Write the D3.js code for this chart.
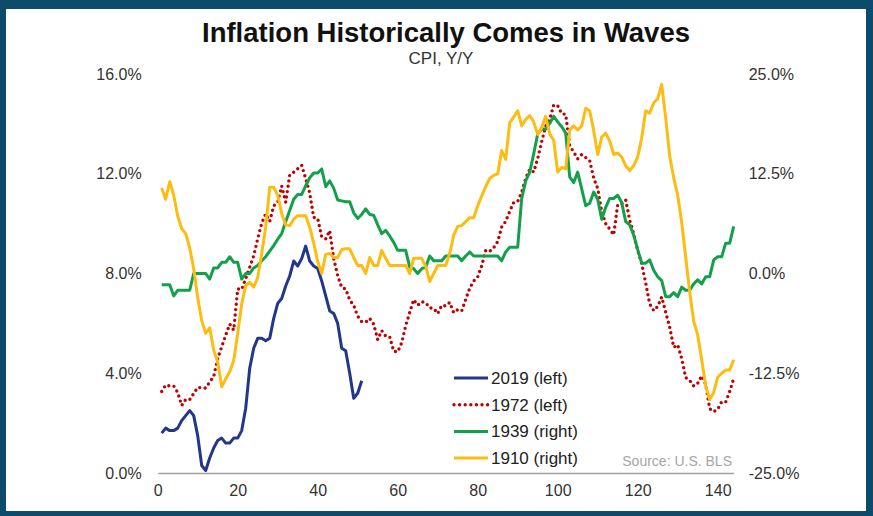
<!DOCTYPE html>
<html>
<head>
<meta charset="utf-8">
<script src="https://cdn.jsdelivr.net/npm/d3@7"></script>
<style>
  html, body { margin: 0; padding: 0; background: #fff; }
  svg { display: block; font-family: "Liberation Sans", Arial, sans-serif; }
</style>
</head>
<body>
<svg id="root" width="873" height="516"></svg>
<script>
"use strict";

// CPI Y/Y, months since start of each episode (month 1 = first point)
const cpi2019 = [
  1.6, 1.8, 1.7, 1.7, 1.8, 2.1, 2.3,
  2.5, 2.3, 1.5, 0.3, 0.1, 0.6, 1.0, 1.3, 1.4, 1.2, 1.2, 1.4,
  1.4, 1.7, 2.6, 4.2, 5.0, 5.4, 5.4, 5.3, 5.4, 6.2, 6.8, 7.0,
  7.5, 7.9, 8.5, 8.3, 8.6, 9.1, 8.5, 8.3, 8.2, 7.7, 7.1, 6.5,
  6.4, 6.0, 5.0, 4.9, 4.0, 3.0, 3.2, 3.7
];

const cpi1972 = [
  3.27, 3.53, 3.49, 3.49, 3.23, 2.71, 2.95, 2.94, 3.19, 3.43, 3.42, 3.41,
  3.65, 3.87, 4.59, 5.06, 5.53, 5.97, 5.73, 7.38, 7.36, 7.80, 8.25, 8.71,
  9.39, 10.02, 10.39, 10.09, 10.71, 10.86, 11.51, 10.86, 11.95, 12.06, 12.20, 12.34,
  11.80, 11.23, 10.25, 10.21, 9.47, 9.39, 9.72, 8.60, 7.91, 7.44, 7.38, 6.94,
  6.72, 6.29, 6.07, 6.05, 6.20, 5.97, 5.35, 5.71, 5.49, 5.46, 4.88, 4.86,
  5.22, 5.91, 6.44, 6.95, 6.73, 6.87, 6.83, 6.62, 6.60, 6.39, 6.72, 6.70,
  6.84, 6.43, 6.55, 6.50, 6.96, 7.41, 7.70, 7.86, 8.31, 8.93, 8.89, 9.03,
  9.28, 9.86, 10.09, 10.49, 10.85, 10.89, 11.26, 11.82, 12.18, 12.07, 12.61, 13.29,
  13.91, 14.18, 14.76, 14.73, 14.41, 14.38, 13.13, 12.87, 12.60, 12.77, 12.65, 12.52,
  11.83, 11.41, 10.49, 10.00, 9.78, 9.55, 10.76, 10.80, 10.95, 10.14, 9.59, 8.92,
  8.39, 7.62, 6.78, 6.51, 6.68, 7.06, 6.44, 5.85, 5.04, 5.14, 4.59, 3.83,
  3.71, 3.49, 3.60, 3.90, 3.55, 2.58, 2.46, 2.56, 2.86, 2.85, 3.27, 3.79
];

const cpi1939 = [
  -1.4, -1.4, -1.4, -2.8, -2.1, -2.1, -2.1, -2.1, 0.0, 0.0, 0.0, 0.0,
  -0.7, 0.7, 0.7, 1.4, 1.4, 2.1, 1.4, 1.4, -0.7, 0.0, 0.0, 0.7,
  1.0, 1.6, 2.1, 2.8, 3.5, 4.3, 5.0, 6.5, 7.9, 9.3, 9.9, 9.9,
  11.0, 12.0, 12.6, 12.6, 13.1, 10.9, 11.6, 10.7, 9.2, 9.1, 9.0, 9.0,
  7.6, 6.9, 7.4, 8.1, 7.4, 7.3, 6.1, 5.0, 5.4, 4.7, 3.9, 2.9,
  2.9, 2.9, 0.8, 0.6, 0.0, 0.6, 0.8, 2.2, 1.6, 1.6, 1.6, 2.2,
  2.2, 2.2, 2.2, 1.6, 2.2, 2.7, 2.2, 2.2, 2.2, 2.2, 2.2, 2.2,
  2.2, 1.6, 2.7, 3.3, 3.3, 3.3, 9.4, 11.6, 12.7, 15.0, 17.5, 18.1,
  18.1, 18.8, 19.7, 19.0, 18.4, 17.6, 12.1, 11.4, 12.7, 10.6, 8.5, 8.8,
  10.2, 9.3, 6.8, 8.3, 9.4, 9.4, 9.8, 8.9, 6.5, 6.1, 4.8, 3.0,
  1.3, 1.3, 1.7, 0.4, -0.4, -0.9, -2.9, -2.9, -2.4, -2.9, -1.7, -2.1,
  -2.1, -1.3, -0.8, -1.3, -0.4, -0.4, 1.7, 2.1, 2.1, 3.8, 3.8, 5.9
];

const cpi1910 = [
  10.7, 9.3, 11.5, 9.8, 7.2, 5.6, 5.0, 3.2, 0.6, -3.0, -5.9, -7.5,
  -6.8, -9.6, -11.1, -14.2, -13.2, -12.3, -10.9, -7.5, -3.8, -1.5, -1.1, -1.7,
  -0.5, 2.5, 5.8, 10.8, 10.8, 9.8, 7.5, 6.1, 6.0, 6.8, 7.25, 7.25,
  7.25, 5.8, 3.8, 1.5, 0.0, 2.4, 2.5, 2.0, 2.0, 3.0, 3.1, 3.1,
  2.0, 1.0, 1.0, 0.0, 2.0, 1.0, 1.0, 2.9, 1.9, 1.0, 1.0, 1.0,
  1.0, 1.0, 0.0, 1.9, 1.9, 1.9, 0.9, -1.0, 0.0, 1.0, 1.0, 1.0,
  2.5, 4.8, 5.9, 6.0, 6.5, 7.0, 7.0, 8.5, 9.7, 10.9, 11.9, 12.3,
  12.5, 15.4, 14.3, 18.9, 19.6, 20.4, 18.5, 19.3, 19.8, 19.0, 17.4, 18.3,
  19.7, 17.5, 16.7, 12.7, 13.3, 13.1, 18.0, 18.5, 18.0, 18.5, 20.7, 20.4,
  17.9, 14.9, 17.1, 17.6, 16.6, 14.9, 15.1, 14.6, 13.5, 12.9, 13.5, 14.6,
  17.0, 20.4, 20.1, 21.4, 21.9, 23.7, 19.5, 14.7, 12.0, 9.8, 6.4, 2.0,
  -2.3, -6.0, -7.7, -10.8, -14.1, -15.8, -14.9, -13.0, -12.5, -12.1, -12.1, -10.8
];

const xTicks = [0, 20, 40, 60, 80, 100, 120, 140];
const leftTicks = [0, 4, 8, 12, 16];
const rightTicks = [-25, -12.5, 0, 12.5, 25];

const seriesList = [
  { name: "2019 (left)", values: cpi2019, axis: "left", color: "#22378a", dotted: false },
  { name: "1972 (left)", values: cpi1972, axis: "left", color: "#c00000", dotted: true },
  { name: "1939 (right)", values: cpi1939, axis: "right", color: "#12a04a", dotted: false },
  { name: "1910 (right)", values: cpi1910, axis: "right", color: "#fcbc12", dotted: false },
];

const svg = d3.select("#root");
const W = 873, H = 516;

// frame
const frameColor = "#0c4b6c";
svg.append("rect").attr("width", W).attr("height", H).attr("fill", frameColor);
svg.append("rect").attr("x", 6).attr("y", 9).attr("width", W - 13).attr("height", H - 14).attr("fill", "#fff");

const plot = { left: 157.7, right: 733.7, top: 74, bottom: 473 };

const x = d3.scaleLinear().domain([0, 144]).range([plot.left, plot.right]);
const yLeft = d3.scaleLinear().domain([0, 16]).range([plot.bottom, plot.top]);
const yRight = d3.scaleLinear().domain([-25, 25]).range([plot.bottom, plot.top]);

// title
svg.append("text")
  .attr("x", 446).attr("y", 42)
  .attr("text-anchor", "middle")
  .attr("font-size", 27.5).attr("font-weight", "bold").attr("fill", "#111")
  .text("Inflation Historically Comes in Waves");
svg.append("text")
  .attr("x", 441).attr("y", 64)
  .attr("text-anchor", "middle")
  .attr("font-size", 17).attr("fill", "#333")
  .text("CPI, Y/Y");

// axes
const fmt = (d) => d.toFixed(1) + "%";

const xAxis = svg.append("g")
  .attr("transform", `translate(0,${plot.bottom})`)
  .call(d3.axisBottom(x).tickValues(xTicks).tickSize(0).tickPadding(12).tickFormat(d3.format("d")));
xAxis.select(".domain").attr("stroke", "#a0a0a0").attr("stroke-width", 1.5);

const leftAxis = svg.append("g")
  .attr("transform", `translate(${plot.left},0)`)
  .call(d3.axisLeft(yLeft).tickValues(leftTicks).tickSize(0).tickPadding(16).tickFormat(fmt));
leftAxis.select(".domain").remove();

const rightAxis = svg.append("g")
  .attr("transform", `translate(${plot.right},0)`)
  .call(d3.axisRight(yRight).tickValues(rightTicks).tickSize(0).tickPadding(15).tickFormat(fmt));
rightAxis.select(".domain").remove();

svg.selectAll(".tick text")
  .attr("font-family", "'Liberation Sans', Arial, sans-serif")
  .attr("font-size", 16)
  .attr("fill", "#333");

// lines
seriesList.forEach((s) => {
  const yScale = s.axis === "left" ? yLeft : yRight;
  const line = d3.line()
    .x((d, i) => x(i + 1))
    .y((d) => yScale(d));
  const path = svg.append("path")
    .datum(s.values)
    .attr("fill", "none")
    .attr("stroke", s.color)
    .attr("d", line);
  if (s.dotted) {
    path.attr("stroke-width", 3.4)
      .attr("stroke-dasharray", "0 5.4")
      .attr("stroke-linecap", "round");
  } else {
    path.attr("stroke-width", 3)
      .attr("stroke-linejoin", "round");
  }
});

// legend
const legend = svg.append("g").attr("transform", "translate(454,378)");
const legendItems = legend.selectAll("g")
  .data(seriesList)
  .join("g")
  .attr("transform", (d, i) => `translate(0,${i * 26.7})`);

legendItems.append("line")
  .attr("x1", 0).attr("x2", 34)
  .attr("stroke", (d) => d.color)
  .attr("stroke-width", (d) => (d.dotted ? 3.4 : 3))
  .attr("stroke-dasharray", (d) => (d.dotted ? "0 5.6" : null))
  .attr("stroke-linecap", (d) => (d.dotted ? "round" : "butt"));

legendItems.append("text")
  .attr("x", 37).attr("y", 6)
  .attr("font-size", 17).attr("fill", "#222")
  .text((d) => d.name);

svg.append("text")
  .attr("x", 732).attr("y", 466)
  .attr("text-anchor", "end")
  .attr("font-size", 14).attr("fill", "#a6a6a6")
  .text("Source: U.S. BLS");
</script>
</body>
</html>
